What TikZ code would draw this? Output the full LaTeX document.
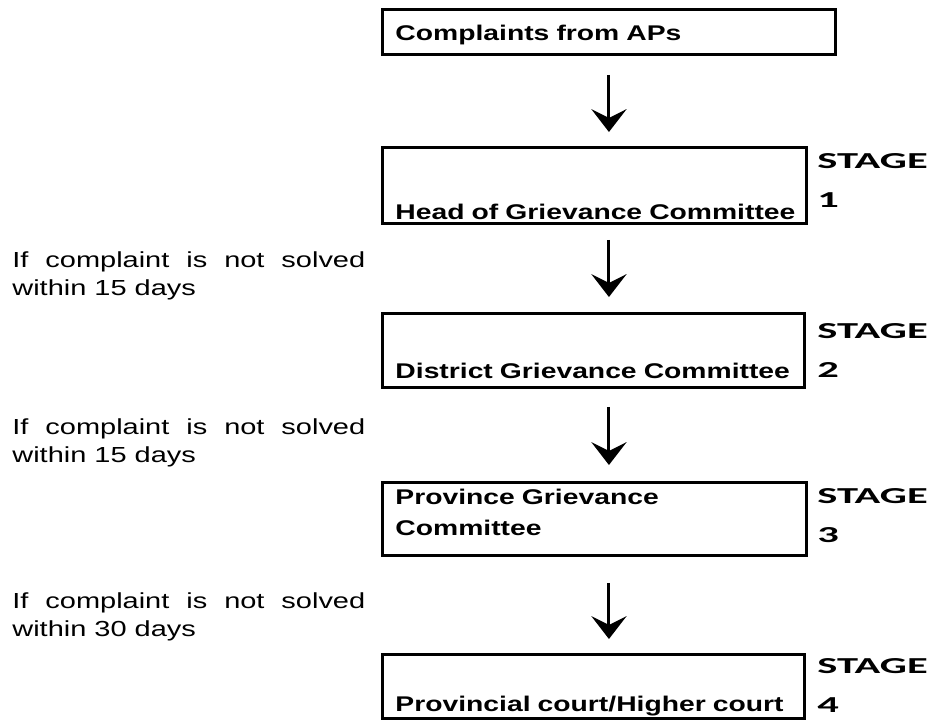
\documentclass[tikz,border=0pt]{standalone}
\usepackage{fontspec}
\setmainfont{Liberation Sans}[FakeStretch=1.33]
\newfontfamily\stagefont{Carlito}[FakeStretch=1.86]
\usepackage{tikz}
\usetikzlibrary{arrows.meta, positioning, calc}
\tikzstyle{committee} = [rectangle, draw, line width=1.7pt, anchor=north west, inner sep=0pt, align=left, font=\bfseries\fontsize{12.1}{17.6}\selectfont, execute at begin node={\leftskip=0.26cm}]
\tikzstyle{stagelabel} = [anchor=base west, inner sep=0pt, text width=2.3cm, align=left, font=\stagefont\bfseries\fontsize{13}{22.7}\selectfont]
\tikzstyle{condition} = [anchor=base west, inner sep=0pt, text width=7.06cm, align=justify, font=\fontsize{12.4}{16.4}\selectfont]
\tikzstyle{flow} = [line width=1.7pt, -{Stealth[length=13pt, width=20pt, inset=5pt]}]

\begin{document}
\begin{tikzpicture}[x=0.02cm, y=-0.02cm]
    \useasboundingbox (0, 0) rectangle (930, 727);

    \node[committee, text width=9.06cm, text height=0.62cm, text depth=0.28cm] at (381, 8) (complaints) {Complaints from APs};
    \node[committee, text width=8.48cm, text height=1.44cm, text depth=0.08cm] at (381, 146) (head) {Head of Grievance Committee};
    \node[committee, text width=8.44cm, text height=1.3cm, text depth=0.18cm] at (381, 312) (district) {District Grievance Committee};
    \node[committee, text width=8.48cm, text height=0.44cm, text depth=1.02cm] at (381, 481) (province) {Province Grievance\\Committee};
    \node[committee, text width=8.44cm, text height=1.14cm, text depth=0.14cm] at (381, 653) (court) {Provincial court/Higher court};

    \node[stagelabel] at (817, 168) (stage1) {STAGE\\1};
    \node[stagelabel] at (817, 338) (stage2) {STAGE\\2};
    \node[stagelabel] at (817, 503) (stage3) {STAGE\\3};
    \node[stagelabel] at (817, 673) (stage4) {STAGE\\4};

    \node[condition] at (12, 267) (days1) {If complaint is not solved\linebreak within 15 days};
    \node[condition] at (12, 434) (days2) {If complaint is not solved\linebreak within 15 days};
    \node[condition] at (12, 608) (days3) {If complaint is not solved\linebreak within 30 days};

    \draw[flow, shorten <=0.38cm, shorten >=0.28cm] (complaints.south) -- (head.north -| complaints.south);
    \draw[flow, shorten <=0.3cm, shorten >=0.3cm] (head.south -| complaints.south) -- (district.north -| complaints.south);
    \draw[flow, shorten <=0.36cm, shorten >=0.32cm] (district.south -| complaints.south) -- (province.north -| complaints.south);
    \draw[flow, shorten <=0.52cm, shorten >=0.28cm] (province.south -| complaints.south) -- (court.north -| complaints.south);
\end{tikzpicture}
\end{document}
